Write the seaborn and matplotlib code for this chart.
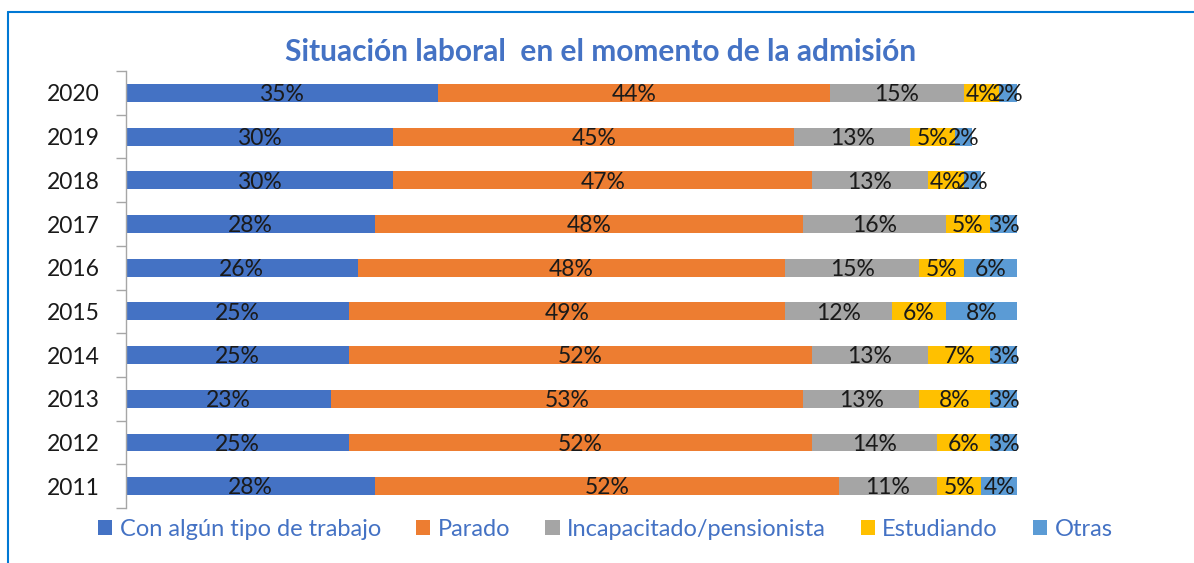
import pandas as pd
import seaborn as sns
import matplotlib.pyplot as plt
from matplotlib.lines import Line2D
from matplotlib.patches import Patch

# Data (percent)
years = ['2020', '2019', '2018', '2017', '2016', '2015', '2014', '2013', '2012', '2011']
trabajo = [35, 30, 30, 28, 26, 25, 25, 23, 25, 28]
parado = [44, 45, 47, 48, 48, 49, 52, 53, 52, 52]
incapacitado = [15, 13, 13, 16, 15, 12, 13, 13, 14, 11]
estudiando = [4, 5, 4, 5, 5, 6, 7, 8, 6, 5]
otras = [2, 2, 2, 3, 6, 8, 3, 3, 3, 4]

series = ['Con algún tipo de trabajo', 'Parado', 'Incapacitado/pensionista', 'Estudiando', 'Otras']
colors = ['#4472C4', '#ED7D31', '#A5A5A5', '#FFC000', '#5B9BD5']

df = pd.DataFrame({'year': years, series[0]: trabajo, series[1]: parado,
                   series[2]: incapacitado, series[3]: estudiando, series[4]: otras})
cum = df[series].cumsum(axis=1)

sns.set_style('white')
plt.rcParams['font.family'] = ['Lato', 'DejaVu Sans']

fig = plt.figure(figsize=(11.94, 5.63), dpi=100)
ax = fig.add_axes([0.1055, 0.0977, 0.7463, 0.776])

# stacked bars: draw cumulative totals from the back to the front
for s, c in reversed(list(zip(series, colors))):
    sns.barplot(x=cum[s], y=df['year'], order=years, color=c, width=0.41,
                orient='h', saturation=1, ax=ax, linewidth=0)

# segment labels (small ones overlap, as in the original)
for i, y in enumerate(years):
    left = 0
    for s in series:
        v = df.loc[i, s]
        ax.text(left + v / 2, i + 0.04, f'{v}%', ha='center', va='center',
                fontsize=16.5, color='#1a1a1a')
        left += v

ax.set_xlim(0, 100)
ax.set_ylim(9.5, -0.5)
ax.set_xlabel('')
ax.set_ylabel('')
ax.set_xticks([])
for sp in ['top', 'right', 'bottom']:
    ax.spines[sp].set_visible(False)
ax.spines['left'].set_color('#A6A6A6')
ax.spines['left'].set_linewidth(1)
ax.tick_params(axis='y', which='major', left=False, length=0, pad=19, labelsize=16.5,
               labelcolor='#1a1a1a')
ax.set_yticks([i - 0.5 for i in range(11)], minor=True)
ax.tick_params(axis='y', which='minor', left=True, length=7, color='#A6A6A6', width=1)

fig.text(0.503, 0.907, 'Situación laboral  en el momento de la admisión', ha='center',
         va='center', fontsize=21.5, fontweight='bold', color='#4472C4')

handles = [Patch(facecolor=c, edgecolor='none') for c in colors]
leg = fig.legend(handles, series, loc='center', bbox_to_anchor=(0.507, 0.06), ncol=5,
                 frameon=False, fontsize=17, handlelength=0.6, handleheight=0.6,
                 handletextpad=0.3, columnspacing=1.5)
for t in leg.get_texts():
    t.set_color('#4472C4')

# chart frame
fig.add_artist(Line2D([8 / 1194, 1], [1 - 12 / 563, 1 - 12 / 563], color='#0078D4', lw=1.5))
fig.add_artist(Line2D([8 / 1194, 8 / 1194], [0, 1 - 12 / 563], color='#0078D4', lw=1.5))

fig.savefig('out.png', dpi=100)
